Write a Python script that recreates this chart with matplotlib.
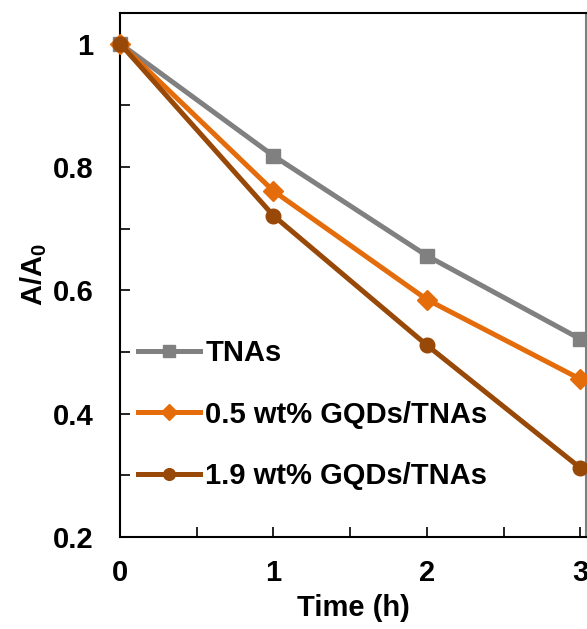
import numpy as np
import matplotlib.pyplot as plt
from matplotlib.ticker import MultipleLocator, FuncFormatter

plt.rcParams['font.family'] = ['Liberation Sans', 'DejaVu Sans']
plt.rcParams['font.weight'] = 'bold'
plt.rcParams['mathtext.fontset'] = 'custom'
plt.rcParams['mathtext.rm'] = 'Liberation Sans:bold'
plt.rcParams['mathtext.bf'] = 'Liberation Sans:bold'

time_h = [0, 1, 2, 3]
tnas = [1.0, 0.818, 0.656, 0.521]
gqd_05 = [1.0, 0.761, 0.585, 0.456]
gqd_19 = [1.0, 0.721, 0.511, 0.312]

labels = ["TNAs", "0.5 wt% GQDs/TNAs", "1.9 wt% GQDs/TNAs"]
colors = ["#808080", "#E46C0A", "#984807"]
markers = ["s", "D", "o"]
msizes = [10, 10, 10.5]

fig = plt.figure(figsize=(5.87, 6.29), dpi=100)
ax = fig.add_axes([0.2044, 0.1463, 0.7946, 0.8335])

for y, lab, c, m, ms in zip([tnas, gqd_05, gqd_19], labels, colors, markers, msizes):
    ax.plot(time_h, y, color=c, lw=3.6, marker=m, ms=ms, label=lab, clip_on=False, zorder=3)

ax.set_xlim(0, 3.04)
ax.set_ylim(0.2, 1.05)
ax.xaxis.set_major_locator(MultipleLocator(0.5))
ax.yaxis.set_major_locator(MultipleLocator(0.1))
ax.xaxis.set_major_formatter(FuncFormatter(lambda v, p: f"{v:g}" if abs(v - round(v)) < 1e-6 else ""))
ax.yaxis.set_major_formatter(FuncFormatter(
    lambda v, p: f"{v:g}" if abs(round(v * 10) % 2) == 0 and v < 1.01 else ""))
ax.tick_params(direction='in', length=7, width=1.2, labelsize=21)
ax.tick_params(axis='x', pad=16)
ax.tick_params(axis='y', pad=19)
for s in ax.spines.values():
    s.set_linewidth(1.5)
ax.spines['right'].set_color('#808080')

ax.set_xlabel("Time (h)", fontsize=21, fontweight='bold', labelpad=5)
ax.set_ylabel(r"A/A$_\mathregular{0}$", fontsize=21, fontweight='bold', labelpad=3)

ax.legend(loc='lower left', bbox_to_anchor=(-0.017, 0.04), frameon=False, fontsize=21,
          handlelength=2.1, labelspacing=1.14, handletextpad=0.2, markerscale=0.8)

fig.savefig("out.png", dpi=100)
